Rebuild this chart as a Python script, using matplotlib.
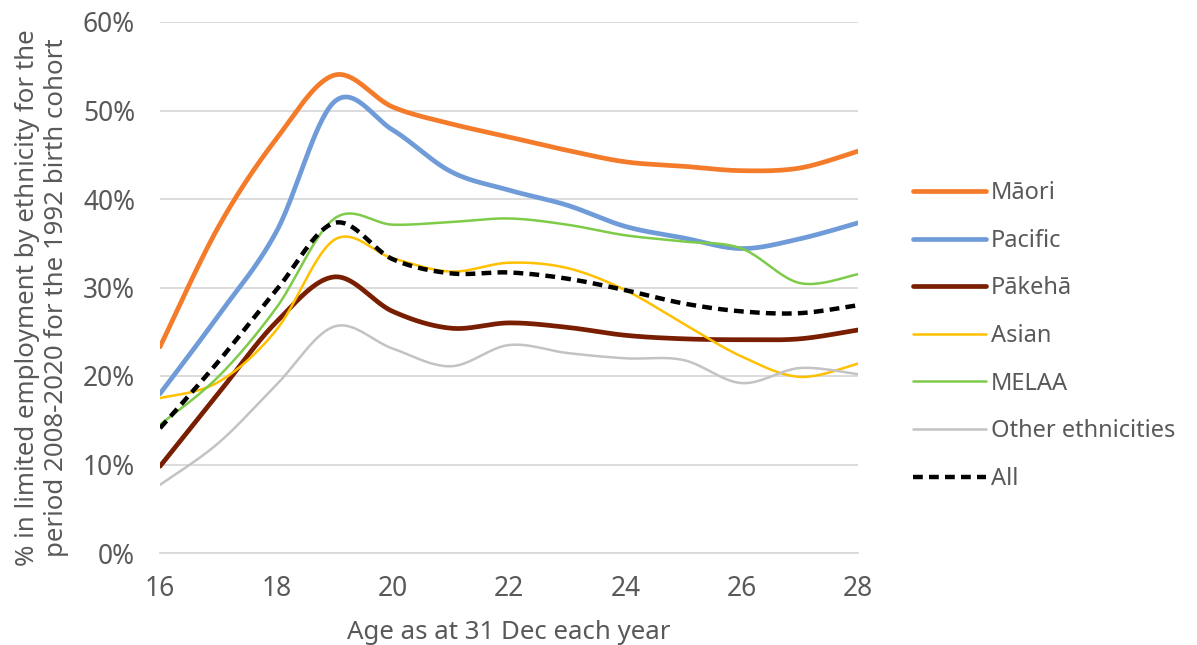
import numpy as np
import matplotlib.pyplot as plt
from matplotlib.ticker import PercentFormatter

ages = [16, 17, 18, 19, 20, 21, 22, 23, 24, 25, 26, 27, 28]

maori = [23.3, 36.8, 46.8, 54.0, 50.4, 48.5, 47.0, 45.5, 44.2, 43.7, 43.2, 43.5, 45.4]
pacific = [18.0, 26.8, 36.3, 51.0, 47.8, 43.1, 41.0, 39.3, 36.9, 35.6, 34.4, 35.5, 37.3]
pakeha = [9.8, 18.0, 26.1, 31.2, 27.3, 25.4, 26.0, 25.5, 24.6, 24.2, 24.1, 24.2, 25.2]
asian = [17.5, 19.3, 25.2, 35.4, 33.3, 31.8, 32.8, 32.2, 29.7, 25.9, 22.2, 19.9, 21.4]
melaa = [14.5, 19.9, 27.7, 37.8, 37.1, 37.4, 37.8, 37.1, 35.9, 35.2, 34.4, 30.5, 31.5]
other = [7.7, 12.4, 19.0, 25.6, 23.1, 21.1, 23.5, 22.6, 22.0, 21.8, 19.2, 20.9, 20.2]
all_eth = [14.1, 21.6, 29.7, 37.3, 33.2, 31.6, 31.7, 31.0, 29.7, 28.2, 27.3, 27.1, 28.0]


def smooth(x, y, n=40):
    # Catmull-Rom style bezier through every point (like a spreadsheet "smoothed line")
    p = np.column_stack([x, y]).astype(float)
    p = np.vstack([p[0], p, p[-1]])
    xs, ys = [], []
    t = np.linspace(0, 1, n)[:, None]
    for i in range(1, len(p) - 2):
        p0, p1, p2, p3 = p[i - 1], p[i], p[i + 1], p[i + 2]
        c1 = p1 + (p2 - p0) / 6
        c2 = p2 - (p3 - p1) / 6
        seg = ((1 - t) ** 3) * p1 + 3 * ((1 - t) ** 2) * t * c1 + 3 * (1 - t) * t ** 2 * c2 + t ** 3 * p2
        xs.extend(seg[:, 0])
        ys.extend(seg[:, 1])
    return np.array(xs), np.array(ys)


plt.rcParams['font.family'] = ['Noto Sans', 'DejaVu Sans']
GREY = '#595959'
W, H = 1197, 645

fig = plt.figure(figsize=(W / 100, H / 100), dpi=100)
ax = fig.add_axes([160 / W, 1 - 553 / H, 698 / W, 531 / H])

series = [
    ('Māori', maori, '#F47B2A', 3.4),
    ('Pacific', pacific, '#6F9BD8', 3.4),
    ('Pākehā', pakeha, '#7A1E02', 3.4),
    ('Asian', asian, '#FFC000', 1.8),
    ('MELAA', melaa, '#7DCB48', 1.8),
    ('Other ethnicities', other, '#C3C3C3', 1.8),
]
for name, vals, col, lw in series:
    sx, sy = smooth(ages, vals)
    ax.plot(sx, sy, color=col, lw=lw, label=name, solid_capstyle='round', zorder=3)

sx, sy = smooth(ages, all_eth)
ax.plot(sx, sy, color='black', lw=3.2, ls=(0, (2.2, 1.4)), label='All', zorder=4)

ax.set_xlim(16, 28)
ax.set_ylim(0, 60)
ax.set_xticks(range(16, 29, 2))
ax.set_yticks(range(0, 61, 10))
ax.yaxis.set_major_formatter(PercentFormatter(decimals=0))
ax.grid(axis='y', color='#D9D9D9', lw=1.3)
ax.set_axisbelow(True)
for s in ['top', 'right', 'left']:
    ax.spines[s].set_visible(False)
ax.spines['bottom'].set_color('#D9D9D9')
ax.spines['bottom'].set_linewidth(1.3)
ax.tick_params(length=0, labelsize=19, colors=GREY)
ax.tick_params(axis='x', pad=16)
ax.tick_params(axis='y', pad=18)

ax.set_xlabel('Age as at 31 Dec each year', fontsize=18.6, color=GREY, labelpad=12)
fig.text(42 / W, 1 - 298 / H,
         '% in limited employment by ethnicity for the\nperiod 2008-2020 for the 1992 birth cohort',
         rotation=90, ha='center', va='center', fontsize=18.6, color=GREY,
         linespacing=1.2, multialignment='center')

leg = ax.legend(loc='center left', bbox_to_anchor=((913 - 160) / 698, (553 - 336) / 531),
                frameon=False, borderpad=0, borderaxespad=0,
                fontsize=17, labelcolor=GREY, handlelength=3.1, handletextpad=0.2,
                labelspacing=1.0)

fig.savefig('out.png', dpi=100)
